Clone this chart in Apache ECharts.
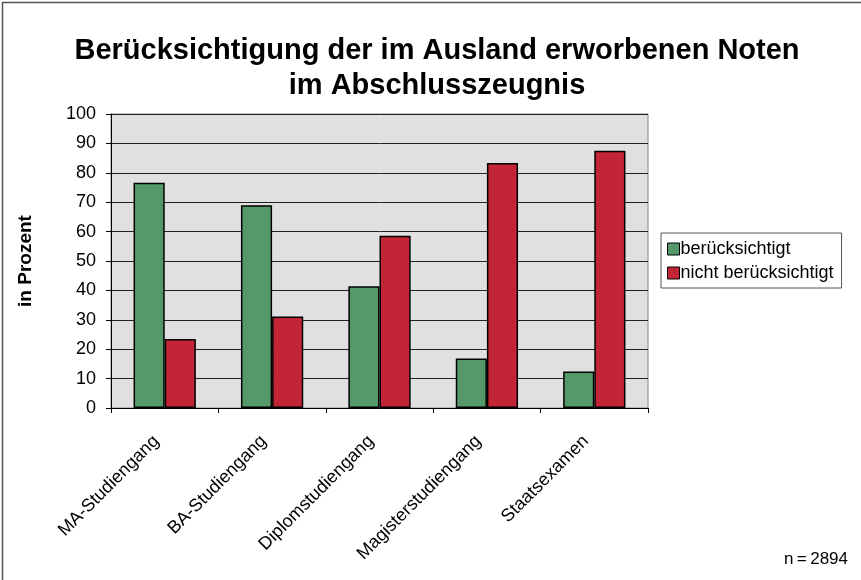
<!DOCTYPE html>
<html>
<head>
<meta charset="utf-8">
<script src="https://cdn.jsdelivr.net/npm/echarts@6/dist/echarts.min.js"></script>
<style>
  html, body { margin: 0; padding: 0; background: #fff; }
  #chart { width: 861px; height: 580px; }
</style>
</head>
<body>
<div id="chart"></div>
<script>
// Kategorien und Werte (in Prozent)
var categories = ['MA-Studiengang', 'BA-Studiengang', 'Diplomstudiengang', 'Magisterstudiengang', 'Staatsexamen'];
var beruecksichtigt = [76.6, 69.0, 41.4, 16.8, 12.4];
var nichtBeruecksichtigt = [23.5, 31.1, 58.6, 83.3, 87.5];
var seriesNames = ['berücksichtigt', 'nicht berücksichtigt'];

var font = 'Liberation Sans, Arial, Helvetica, sans-serif';
var chart = echarts.init(document.getElementById('chart'));

var option = {
  backgroundColor: '#fff',
  animation: false,
  textStyle: { fontFamily: font },
  title: {
    text: 'Berücksichtigung der im Ausland erworbenen Noten\nim Abschlusszeugnis',
    left: 432,
    top: 28,
    textAlign: 'center',
    textStyle: { fontSize: 29, fontWeight: 'bold', color: '#000', lineHeight: 35, fontFamily: font }
  },
  legend: {
    orient: 'vertical',
    left: 661,
    top: 233,
    padding: [7, 8, 6, 6],
    itemGap: 6,
    itemWidth: 12,
    itemHeight: 12,
    icon: 'rect',
    borderColor: '#555',
    borderWidth: 1,
    backgroundColor: '#fff',
    textStyle: { fontSize: 18, color: '#000', padding: [0, 0, 0, -4] },
    itemStyle: { borderColor: '#000', borderWidth: 1 },
    data: seriesNames
  },
  grid: {
    left: 111,
    top: 114,
    width: 537,
    height: 294,
    show: true,
    backgroundColor: '#e0e0e0',
    borderColor: '#888',
    borderWidth: 1
  },
  xAxis: {
    type: 'category',
    data: categories,
    axisLine: { lineStyle: { color: '#000', width: 1 } },
    axisTick: { show: true, length: 5, lineStyle: { color: '#000' } },
    axisLabel: { rotate: 45, fontSize: 18, color: '#000', margin: 22, padding: [0, 12, 0, 0] }
  },
  yAxis: {
    type: 'value',
    min: 0,
    max: 100,
    interval: 10,
    name: 'in Prozent',
    nameLocation: 'middle',
    nameGap: 76,
    nameTextStyle: { fontSize: 19, fontWeight: 'bold', color: '#000' },
    axisLine: { show: true, lineStyle: { color: '#000', width: 1 } },
    axisTick: { show: true, length: 5, lineStyle: { color: '#000' } },
    axisLabel: { fontSize: 18, color: '#000', margin: 15 },
    splitLine: { lineStyle: { color: '#222', width: 1 } }
  },
  series: [
    {
      name: seriesNames[0],
      type: 'bar',
      data: beruecksichtigt,
      barGap: '0%',
      barCategoryGap: '42%',
      itemStyle: { color: '#55996b', borderColor: '#000', borderWidth: 1.5 }
    },
    {
      name: seriesNames[1],
      type: 'bar',
      data: nichtBeruecksichtigt,
      itemStyle: { color: '#c22535', borderColor: '#000', borderWidth: 1.5 }
    }
  ],
  graphic: [
    {
      type: 'rect',
      left: 0, top: 0,
      shape: { width: 860, height: 579 },
      style: { fill: 'none', stroke: '#555', lineWidth: 1.5 },
      silent: true,
      z: 100
    },
    {
      type: 'text',
      right: 13,
      top: 551,
      style: { text: 'n\u2009=\u20092894', font: '17px ' + font, fill: '#000' }
    }
  ]
};

chart.setOption(option);
</script>
</body>
</html>
